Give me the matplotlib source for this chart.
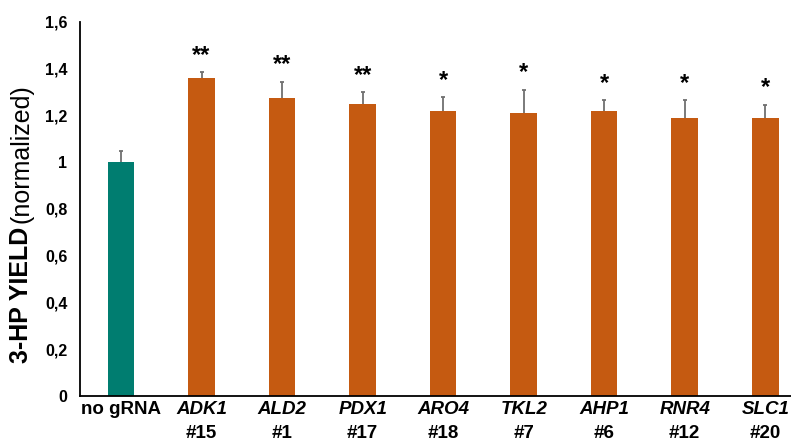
import matplotlib.pyplot as plt
import numpy as np

plt.rcParams['font.family'] = ['Liberation Sans', 'DejaVu Sans']

genes = ['no gRNA', 'ADK1', 'ALD2', 'PDX1', 'ARO4', 'TKL2', 'AHP1', 'RNR4', 'SLC1']
guides = ['', '#15', '#1', '#17', '#18', '#7', '#6', '#12', '#20']
yield_norm = [1.00, 1.36, 1.275, 1.25, 1.22, 1.21, 1.22, 1.19, 1.19]
yield_err = [0.05, 0.025, 0.07, 0.05, 0.057, 0.10, 0.045, 0.075, 0.056]
signif = ['', '**', '**', '**', '*', '*', '*', '*', '*']

teal = '#007d70'
orange = '#c55a11'

fig = plt.figure(figsize=(7.91, 4.48), dpi=100)
ax = fig.add_axes([0.1011, 0.116, 0.8989, 0.835])

x = np.arange(len(genes))
colors = [teal] + [orange] * (len(genes) - 1)
ax.bar(x, yield_norm, width=0.33, color=colors, zorder=2)

# upper-only error bars with a small cap
tops = np.array(yield_norm) + np.array(yield_err)
ax.vlines(x, yield_norm, tops, color='#707070', lw=1.3, zorder=3)
ax.hlines(tops, x - 0.025, x + 0.025, color='#707070', lw=1.3, zorder=3)

for xi, t, s in zip(x, tops, signif):
    if s:
        ax.annotate(s, (xi, t), xytext=(0, 4), textcoords='offset points',
                    ha='center', va='bottom', fontsize=17, fontweight='bold')

ax.set_xlim(-0.51, 8.32)
ax.set_ylim(0, 1.6)
ax.set_yticks(np.arange(0, 1.61, 0.2))
ax.set_yticklabels(['0', '0,2', '0,4', '0,6', '0,8', '1', '1,2', '1,4', '1,6'],
                   fontsize=11.5, fontweight='bold')
ax.tick_params(axis='y', length=0, pad=9)
ax.tick_params(axis='x', length=0)
ax.set_xticks([])

for side in ['top', 'right']:
    ax.spines[side].set_visible(False)
ax.spines['left'].set_linewidth(1.3)
ax.spines['bottom'].set_linewidth(1.3)

# category labels: gene name (italic) over guide number
for xi, g, n in zip(x, genes, guides):
    style = 'normal' if g == 'no gRNA' else 'italic'
    ax.text(xi, -0.012, g, transform=ax.get_xaxis_transform(), ha='center', va='top',
            fontsize=13.5, fontweight='bold', fontstyle=style)
    if n:
        ax.text(xi, -0.078, n, transform=ax.get_xaxis_transform(), ha='center', va='top',
                fontsize=13.5, fontweight='bold')

# y label: bold part followed by regular part
bold = fig.text(0.027, 1 - 363 / 448, '3-HP YIELD', rotation=90, ha='center',
                va='bottom', fontsize=18, fontweight='bold')
fig.canvas.draw()
bb = bold.get_window_extent().transformed(fig.transFigure.inverted())
fig.text(0.027, bb.y1 + 0.008, '(normalized)', rotation=90, ha='center', va='bottom',
         fontsize=18)

fig.savefig('out.png', dpi=100)
